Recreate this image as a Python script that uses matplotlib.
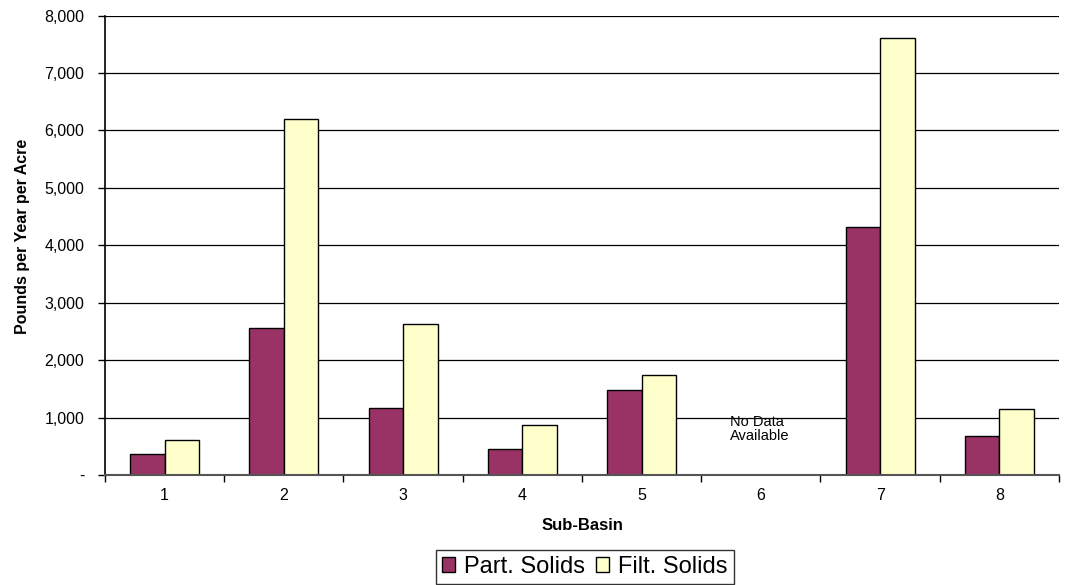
import matplotlib
matplotlib.use("Agg")
import matplotlib.pyplot as plt
from matplotlib.ticker import FuncFormatter
import numpy as np

plt.rcParams['font.family'] = ['Liberation Sans', 'DejaVu Sans']

basins = ['1', '2', '3', '4', '5', '6', '7', '8']
part_solids = [360, 2560, 1170, 450, 1480, 0, 4320, 680]
filt_solids = [610, 6200, 2630, 870, 1740, 0, 7610, 1150]

fig = plt.figure(figsize=(10.67, 5.85), dpi=100)
ax = fig.add_axes([0.0984, 0.188, 0.8941, 0.7855])

x = np.arange(len(basins))
w = 0.29
ax.bar(x - w / 2, part_solids, w, color='#993366', edgecolor='black',
       linewidth=1, label='Part. Solids', zorder=3)
ax.bar(x + w / 2, filt_solids, w, color='#FFFFCC', edgecolor='black',
       linewidth=1, label='Filt. Solids', zorder=3)

# basin 6 has no samples
ax.text(4.74, 800, 'No Data\nAvailable', ha='left', va='center',
        fontsize=10.5, linespacing=1.05)

ax.set_xlim(-0.5, len(basins) - 0.5)
ax.set_ylim(0, 8000)
ax.set_yticks(np.arange(0, 8001, 1000))
ax.yaxis.set_major_formatter(FuncFormatter(
    lambda v, p: '-' if v == 0 else f'{int(v):,}'))
ax.set_xticks(x)
ax.set_xticklabels(basins)
ax.set_xticks(np.arange(-0.5, len(basins)), minor=True)
ax.tick_params(axis='x', which='major', length=0, labelsize=11.5, pad=9)
ax.tick_params(axis='x', which='minor', length=5, width=1, color='black')
ax.tick_params(axis='y', length=5, width=1, labelsize=11.5, pad=10)

ax.grid(axis='y', color='black', linewidth=0.9, zorder=0)
for side in ['top', 'right']:
    ax.spines[side].set_visible(False)
ax.spines['left'].set_linewidth(1.2)
ax.spines['bottom'].set_color('#555555')
ax.spines['bottom'].set_linewidth(1.5)
ax.spines['bottom'].set_zorder(4)

ax.set_xlabel('Sub-Basin', fontsize=12, fontweight='bold', labelpad=11)
ax.set_ylabel('Pounds per Year per Acre', fontsize=11.5, fontweight='bold')
ax.yaxis.set_label_coords(-0.079, 0.52)

leg = fig.legend(loc='lower center', bbox_to_anchor=(0.548, 0.002), ncol=2,
                 fontsize=17, frameon=True, fancybox=False,
                 handlelength=0.55, handleheight=0.55, handletextpad=0.38,
                 columnspacing=0.5, borderpad=0.25, borderaxespad=0.0)
leg.get_frame().set_edgecolor('black')
leg.get_frame().set_linewidth(1)

fig.savefig('out.png', dpi=100)
